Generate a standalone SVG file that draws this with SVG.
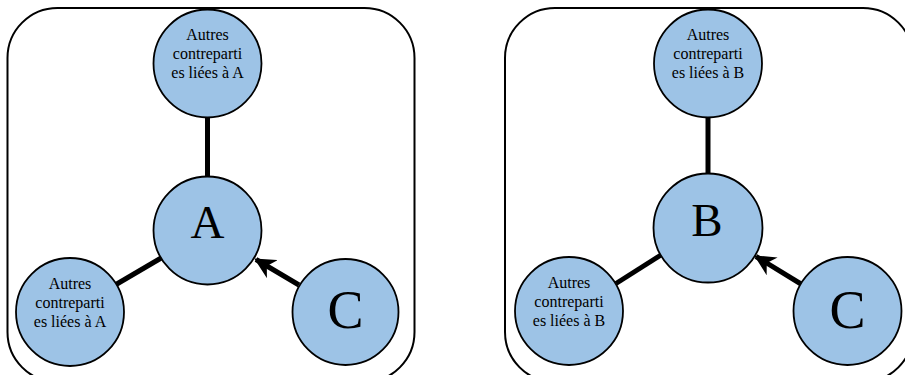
<svg xmlns="http://www.w3.org/2000/svg" width="905" height="375" viewBox="0 0 905 375">
<style>
.panel{fill:none;stroke:#000;stroke-width:2}
.node{fill:#9DC3E6;stroke:#000;stroke-width:1.8}
.small{font-family:"Liberation Serif","Times New Roman",serif;font-size:16px;text-anchor:middle;fill:#000}
.big{font-family:"Liberation Serif","Times New Roman",serif;text-anchor:middle;fill:#000}
.edge{stroke:#000;stroke-width:5;fill:none}
</style>
<defs>
<marker id="arr" viewBox="0 0 10 10" refX="9" refY="5" markerWidth="4.2" markerHeight="4.2" orient="auto" markerUnits="strokeWidth">
<path d="M0,0 L10,5 L0,10 L3,5 Z" fill="#000"/>
</marker>
</defs>
<rect class="panel" x="7.5" y="8" width="407" height="374" rx="50" ry="50"/>
<rect class="panel" x="505" y="8" width="408" height="374" rx="50" ry="50"/>
<g id="connectors">
<line class="edge" x1="207.5" y1="117" x2="207.5" y2="177"/>
<line class="edge" x1="162" y1="257.5" x2="116" y2="284.5"/>
<line class="edge" x1="299" y1="285" x2="256" y2="259.5" marker-end="url(#arr)"/>
<line class="edge" x1="708" y1="117" x2="708" y2="174"/>
<line class="edge" x1="661" y1="255" x2="616" y2="283.5"/>
<line class="edge" x1="801" y1="284" x2="756" y2="256.5" marker-end="url(#arr)"/>
</g>
<g id="top-A">
<circle class="node" cx="207.5" cy="63.5" r="54"/>
<text class="small" x="207.5" y="39.5">Autres</text>
<text class="small" x="207.5" y="58.5">contreparti</text>
<text class="small" x="207.5" y="77.5">es liées à A</text>
</g>
<g id="A">
<circle class="node" cx="207.5" cy="230.5" r="54"/>
<text class="big" x="207.5" y="238" font-size="47">A</text>
</g>
<g id="bl-A">
<circle class="node" cx="70" cy="312" r="54"/>
<text class="small" x="70" y="289">Autres</text>
<text class="small" x="70" y="308">contreparti</text>
<text class="small" x="70" y="327">es liées à A</text>
</g>
<g id="C-left">
<circle class="node" cx="345.5" cy="312" r="53"/>
<text class="big" x="345.5" y="328" font-size="54">C</text>
</g>
<g id="top-B">
<circle class="node" cx="708" cy="63.5" r="54"/>
<text class="small" x="708" y="39.5">Autres</text>
<text class="small" x="708" y="58.5">contreparti</text>
<text class="small" x="708" y="77.5">es liées à B</text>
</g>
<g id="B">
<circle class="node" cx="708" cy="228" r="54.5"/>
<text class="big" x="707" y="236" font-size="47">B</text>
</g>
<g id="bl-B">
<circle class="node" cx="569" cy="311" r="54"/>
<text class="small" x="569" y="288">Autres</text>
<text class="small" x="569" y="307">contreparti</text>
<text class="small" x="569" y="326">es liées à B</text>
</g>
<g id="C-right">
<circle class="node" cx="847.5" cy="311" r="54"/>
<text class="big" x="847.5" y="328" font-size="54">C</text>
</g>
</svg>
